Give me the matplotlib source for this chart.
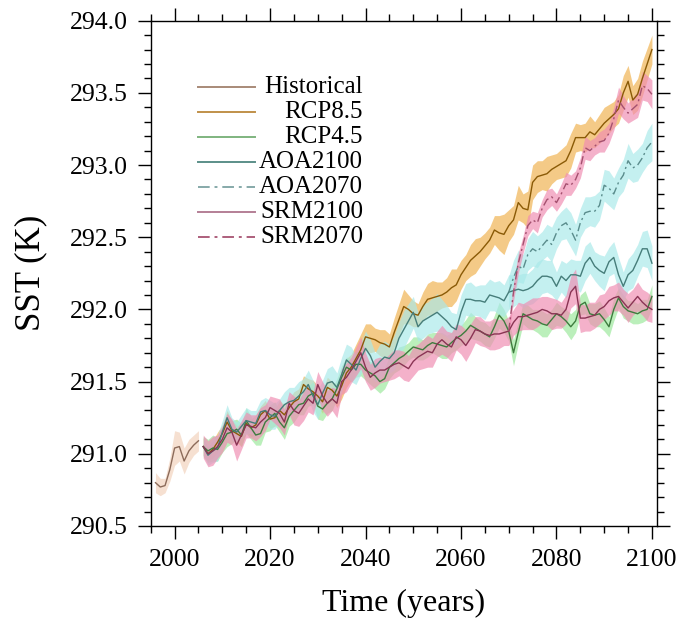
import numpy as np
import matplotlib
matplotlib.use("Agg")
import matplotlib.pyplot as plt
from matplotlib.ticker import MultipleLocator, FormatStrFormatter

plt.rcParams['font.family'] = ['Liberation Serif', 'DejaVu Serif']

# ---- data -------------------------------------------------------------------
hist_years = np.arange(1996, 2006)
fut_years = np.arange(2006, 2101)
term_years = np.arange(2070, 2101)

hist = [290.80, 290.77, 290.78, 290.89, 291.04, 291.05, 290.95, 291.02, 291.06, 291.09]
hist_spread = [0.07, 0.06, 0.05, 0.08, 0.12, 0.10, 0.09, 0.08, 0.07, 0.07]

rcp85 = [291.05, 291.00, 291.03, 291.08, 291.14, 291.22, 291.16, 291.14, 291.12, 291.21,
         291.18, 291.20, 291.27, 291.30, 291.24, 291.25, 291.30, 291.27, 291.32, 291.36,
         291.38, 291.48, 291.45, 291.43, 291.40, 291.36, 291.46, 291.44, 291.40, 291.47,
         291.56, 291.60, 291.66, 291.72, 291.81, 291.80, 291.79, 291.77, 291.76, 291.74,
         291.84, 291.93, 292.02, 292.00, 291.97, 291.96, 292.02, 292.07, 292.08, 292.09,
         292.10, 292.12, 292.15, 292.17, 292.24, 292.29, 292.34, 292.37, 292.40, 292.44,
         292.48, 292.55, 292.53, 292.52, 292.58, 292.62, 292.74, 292.70, 292.69, 292.88,
         292.92, 292.93, 292.94, 292.97, 292.99, 293.01, 293.03, 293.10, 293.19, 293.19,
         293.19, 293.23, 293.21, 293.25, 293.29, 293.32, 293.35, 293.39, 293.50, 293.58,
         293.45, 293.49, 293.60, 293.70, 293.80]
rcp85_spread = [0.06, 0.05, 0.06, 0.07, 0.06, 0.08, 0.07, 0.06, 0.07, 0.06,
                0.06, 0.07, 0.06, 0.07, 0.06, 0.06, 0.07, 0.07, 0.06, 0.07,
                0.07, 0.06, 0.07, 0.08, 0.07, 0.08, 0.07, 0.06, 0.08, 0.09,
                0.10, 0.09, 0.10, 0.11, 0.09, 0.10, 0.08, 0.09, 0.10, 0.09,
                0.10, 0.11, 0.12, 0.10, 0.09, 0.08, 0.10, 0.11, 0.12, 0.10,
                0.09, 0.10, 0.13, 0.11, 0.10, 0.09, 0.11, 0.12, 0.10, 0.09,
                0.09, 0.10, 0.12, 0.14, 0.11, 0.10, 0.12, 0.10, 0.13, 0.12,
                0.11, 0.10, 0.12, 0.10, 0.09, 0.10, 0.11, 0.12, 0.10, 0.09,
                0.10, 0.11, 0.09, 0.10, 0.11, 0.10, 0.09, 0.10, 0.12, 0.11,
                0.10, 0.11, 0.12, 0.11, 0.10]

rcp45 = [291.05, 291.02, 291.04, 291.03, 291.08, 291.14, 291.15, 291.17, 291.13, 291.23,
         291.18, 291.13, 291.14, 291.22, 291.25, 291.28, 291.22, 291.18, 291.26, 291.30,
         291.34, 291.35, 291.40, 291.42, 291.33, 291.31, 291.35, 291.38, 291.45, 291.53,
         291.60, 291.58, 291.62, 291.62, 291.58, 291.56, 291.54, 291.50, 291.52, 291.60,
         291.63, 291.66, 291.68, 291.71, 291.74, 291.73, 291.72, 291.75, 291.77, 291.76,
         291.75, 291.74, 291.77, 291.80, 291.82, 291.85, 291.89, 291.87, 291.85, 291.83,
         291.81, 291.88, 291.96, 291.92, 291.85, 291.70, 291.84, 291.97, 291.95, 291.93,
         291.92, 291.90, 291.89, 291.93, 291.97, 291.95, 291.92, 291.88, 291.92, 292.03,
         292.05, 291.97, 291.96, 291.97, 291.93, 291.88, 292.00, 292.08, 292.02, 291.99,
         291.98, 291.97, 291.99, 292.00, 292.09]
rcp45_spread = [0.07, 0.08, 0.09, 0.08, 0.07, 0.09, 0.08, 0.07, 0.08, 0.09,
                0.08, 0.07, 0.08, 0.07, 0.09, 0.08, 0.07, 0.08, 0.07, 0.08,
                0.07, 0.08, 0.07, 0.08, 0.09, 0.08, 0.07, 0.08, 0.07, 0.08,
                0.07, 0.08, 0.09, 0.08, 0.07, 0.08, 0.09, 0.08, 0.07, 0.08,
                0.07, 0.08, 0.07, 0.06, 0.07, 0.08, 0.07, 0.08, 0.07, 0.08,
                0.09, 0.08, 0.07, 0.08, 0.07, 0.08, 0.09, 0.08, 0.07, 0.08,
                0.07, 0.08, 0.09, 0.08, 0.07, 0.09, 0.08, 0.07, 0.08, 0.07,
                0.08, 0.09, 0.08, 0.07, 0.08, 0.07, 0.08, 0.09, 0.08, 0.07,
                0.08, 0.07, 0.08, 0.09, 0.08, 0.07, 0.08, 0.07, 0.08, 0.07,
                0.08, 0.07, 0.08, 0.07, 0.08]

aoa2100 = [291.05, 290.99, 291.02, 291.04, 291.15, 291.25, 291.17, 291.15, 291.19, 291.23,
           291.22, 291.21, 291.29, 291.30, 291.27, 291.26, 291.30, 291.34, 291.36, 291.37,
           291.40, 291.43, 291.48, 291.40, 291.34, 291.42, 291.49, 291.50, 291.46, 291.55,
           291.65, 291.62, 291.58, 291.66, 291.73, 291.68, 291.60, 291.64, 291.67, 291.66,
           291.70, 291.80, 291.86, 291.92, 291.98, 291.88, 291.92, 291.94, 291.96, 291.98,
           291.95, 291.92, 291.88, 291.86, 291.98, 292.07, 292.07, 292.06, 292.06, 292.05,
           292.10, 292.09, 292.08, 292.06, 292.12, 292.13, 292.14, 292.13, 292.14, 292.16,
           292.20, 292.23, 292.23, 292.22, 292.16, 292.23, 292.20, 292.24, 292.24, 292.23,
           292.32, 292.36, 292.30, 292.27, 292.25, 292.33, 292.36, 292.24, 292.16, 292.24,
           292.27, 292.34, 292.42, 292.42, 292.32]
aoa2100_spread = [0.06, 0.07, 0.08, 0.09, 0.08, 0.09, 0.08, 0.07, 0.08, 0.09,
                  0.08, 0.09, 0.08, 0.09, 0.10, 0.09, 0.08, 0.09, 0.10, 0.09,
                  0.10, 0.09, 0.10, 0.11, 0.10, 0.09, 0.10, 0.11, 0.10, 0.12,
                  0.11, 0.12, 0.10, 0.11, 0.12, 0.11, 0.10, 0.12, 0.11, 0.10,
                  0.12, 0.11, 0.13, 0.12, 0.11, 0.10, 0.12, 0.11, 0.12, 0.13,
                  0.12, 0.11, 0.10, 0.11, 0.12, 0.11, 0.12, 0.10, 0.11, 0.12,
                  0.11, 0.10, 0.12, 0.11, 0.12, 0.11, 0.10, 0.12, 0.11, 0.12,
                  0.13, 0.12, 0.11, 0.12, 0.10, 0.11, 0.12, 0.11, 0.10, 0.11,
                  0.12, 0.11, 0.10, 0.11, 0.12, 0.10, 0.11, 0.12, 0.10, 0.11,
                  0.12, 0.11, 0.12, 0.13, 0.12]

srm2100 = [291.05, 291.00, 291.02, 291.05, 291.10, 291.18, 291.15, 291.06, 291.13, 291.20,
           291.19, 291.18, 291.22, 291.25, 291.32, 291.30, 291.28, 291.22, 291.35, 291.30,
           291.28, 291.33, 291.38, 291.35, 291.48, 291.40, 291.35, 291.38, 291.35, 291.50,
           291.53, 291.58, 291.64, 291.70, 291.60, 291.53, 291.56, 291.58, 291.58, 291.60,
           291.62, 291.63, 291.61, 291.59, 291.64, 291.67, 291.69, 291.71, 291.70, 291.76,
           291.79, 291.76, 291.74, 291.81, 291.79, 291.75, 291.80, 291.86, 291.85, 291.83,
           291.82, 291.83, 291.83, 291.84, 291.85, 291.91, 291.95, 291.95, 291.96, 291.97,
           291.98, 292.00, 291.99, 291.97, 291.97, 291.96, 292.00, 292.12, 292.16, 291.94,
           291.94, 291.95, 291.96, 292.00, 292.02, 292.06, 292.08, 292.09, 292.05, 292.01,
           292.05, 292.09, 292.05, 292.02, 292.00]
srm2100_spread = [0.08, 0.09, 0.10, 0.08, 0.09, 0.10, 0.09, 0.11, 0.10, 0.09,
                  0.08, 0.09, 0.10, 0.09, 0.08, 0.09, 0.10, 0.09, 0.08, 0.10,
                  0.09, 0.10, 0.09, 0.08, 0.09, 0.10, 0.09, 0.08, 0.10, 0.09,
                  0.10, 0.09, 0.10, 0.11, 0.10, 0.09, 0.10, 0.09, 0.08, 0.09,
                  0.10, 0.09, 0.10, 0.09, 0.10, 0.09, 0.10, 0.11, 0.10, 0.09,
                  0.10, 0.09, 0.10, 0.09, 0.10, 0.11, 0.10, 0.09, 0.10, 0.09,
                  0.10, 0.11, 0.10, 0.09, 0.10, 0.09, 0.10, 0.09, 0.10, 0.11,
                  0.10, 0.09, 0.10, 0.11, 0.10, 0.09, 0.10, 0.11, 0.12, 0.10,
                  0.09, 0.10, 0.09, 0.10, 0.09, 0.10, 0.09, 0.10, 0.09, 0.10,
                  0.09, 0.10, 0.09, 0.10, 0.09]

aoa2070 = [292.12, 292.22, 292.30, 292.28, 292.38, 292.42, 292.40, 292.44, 292.48, 292.45,
           292.53, 292.58, 292.60, 292.55, 292.48, 292.60, 292.67, 292.68, 292.68, 292.72,
           292.86, 292.84, 292.80, 292.88, 292.93, 293.03, 292.98, 293.00, 293.05, 293.12,
           293.16]
aoa2070_spread = [0.11, 0.12, 0.11, 0.10, 0.11, 0.12, 0.11, 0.10, 0.11, 0.12,
                  0.11, 0.10, 0.11, 0.12, 0.11, 0.10, 0.11, 0.10, 0.11, 0.10,
                  0.11, 0.12, 0.11, 0.10, 0.11, 0.12, 0.10, 0.11, 0.10, 0.12,
                  0.13]

srm2070 = [291.85, 292.12, 292.32, 292.45, 292.58, 292.62, 292.60, 292.70, 292.76, 292.78,
           292.74, 292.80, 292.87, 292.86, 292.90, 292.98, 293.12, 293.10, 293.13, 293.16,
           293.17, 293.22, 293.32, 293.45, 293.40, 293.36, 293.39, 293.42, 293.55, 293.53,
           293.49]
srm2070_spread = [0.05, 0.06, 0.07, 0.06, 0.07, 0.06, 0.07, 0.06, 0.07, 0.06,
                  0.06, 0.07, 0.08, 0.07, 0.06, 0.07, 0.08, 0.07, 0.06, 0.07,
                  0.08, 0.07, 0.08, 0.09, 0.08, 0.07, 0.08, 0.09, 0.10, 0.09,
                  0.10]

# name, years, mean, spread, line colour, band colour, dash, legend colour
runs = [
    ("Historical", hist_years, hist, hist_spread, "#8c6b5a", "#f2d2bc", "-", "#a88a78"),
    ("RCP8.5", fut_years, rcp85, rcp85_spread, "#8a5a06", "#f0b24e", "-", "#c0914a"),
    ("RCP4.5", fut_years, rcp45, rcp45_spread, "#3e7c3e", "#9be89b", "-", "#7fb47f"),
    ("AOA2100", fut_years, aoa2100, aoa2100_spread, "#467d7a", "#a9e9e9", "-", "#5b8f89"),
    ("AOA2070", term_years, aoa2070, aoa2070_spread, "#5a8c8c", "#a9e9e9", (0, (6, 2.5, 1.5, 2.5)), "#86a9a9"),
    ("SRM2100", fut_years, srm2100, srm2100_spread, "#8a3454", "#f08cb2", "-", "#b47f96"),
    ("SRM2070", term_years, srm2070, srm2070_spread, "#a4506f", "#f08cb2", (0, (6, 2.5, 1.5, 2.5)), "#ad5f7c"),
]

fig = plt.figure(figsize=(6.78, 6.21), dpi=100)
ax = fig.add_axes([0.2223, 0.1530, 0.7463, 0.8137])

# shaded spread first, mean lines on top
for name, yrs, mean, spr, lc, bc, ls, legc in runs:
    m = np.array(mean)
    s = np.array(spr)
    ax.fill_between(yrs, m - s, m + s, color=bc, alpha=0.68, lw=0)

for name, yrs, mean, spr, lc, bc, ls, legc in runs:
    ax.plot(yrs, mean, color=lc, lw=1.0, linestyle=ls)

# legend drawn by hand: short line, right aligned label
for i, (name, yrs, mean, spr, lc, bc, ls, legc) in enumerate(runs):
    yy = 0.8694 - i * 0.0495
    ax.plot([0.0935, 0.206], [yy, yy], color=legc, lw=1.4, linestyle=ls,
            transform=ax.transAxes, clip_on=False)
    ax.text(0.4196, yy, name, ha='right', va='center', fontsize=18,
            transform=ax.transAxes)

ax.set_xlim(1995, 2101)
ax.set_ylim(290.5, 294.0)
ax.xaxis.set_major_locator(MultipleLocator(20))
ax.xaxis.set_minor_locator(MultipleLocator(5))
ax.yaxis.set_major_locator(MultipleLocator(0.5))
ax.yaxis.set_minor_locator(MultipleLocator(0.1))
ax.yaxis.set_major_formatter(FormatStrFormatter('%.1f'))

ax.tick_params(which='both', direction='out', top=True, right=True,
               labeltop=False, labelright=False, width=1.0, labelsize=18.5)
ax.tick_params(which='major', length=9.5, pad=7)
ax.tick_params(which='minor', length=5)
for sp in ax.spines.values():
    sp.set_linewidth(1.0)

ax.set_xlabel("Time (years)", fontsize=23, labelpad=13)
ax.set_ylabel("SST (K)", fontsize=25, labelpad=16)

fig.savefig("out.png", dpi=100)
